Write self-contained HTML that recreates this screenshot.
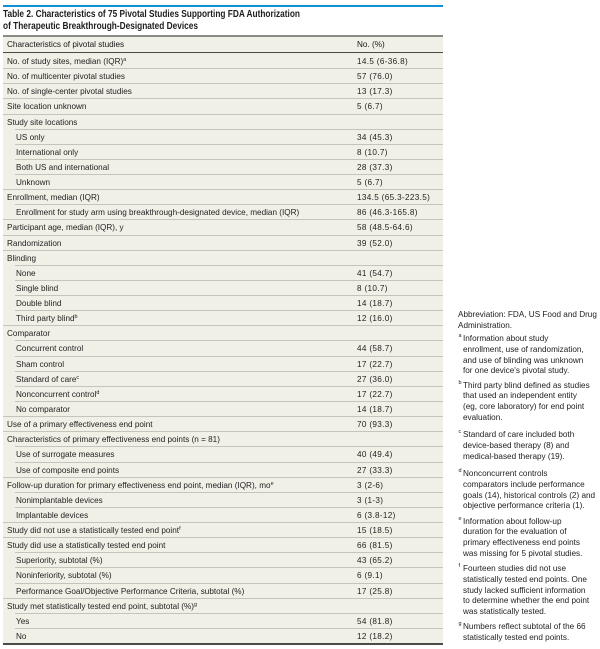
<!DOCTYPE html>
<html>
<head>
<meta charset="utf-8">
<style>
html,body{margin:0;padding:0;background:#fff;}
body{width:600px;height:649px;position:relative;overflow:hidden;font-family:"Liberation Sans",Arial,sans-serif;color:#222;}
.blue{position:absolute;left:3px;top:5px;width:440px;height:2px;background:#1290d2;}
.title{position:absolute;left:3px;top:9px;font-size:9.9px;line-height:12px;font-weight:bold;color:#1e1e1e;white-space:nowrap;transform:scaleX(.84);transform-origin:0 0;}
.bg{position:absolute;left:3px;top:35px;width:440px;height:610px;background:#f1f0e7;}
.htop{position:absolute;left:3px;top:35px;width:440px;height:2px;background:#8a8a86;}
.hbot{position:absolute;left:3px;top:52px;width:440px;height:1px;background:#4a4a48;}
.hdr{position:absolute;top:37px;height:15px;line-height:15px;font-size:8.7px;color:#151515;white-space:nowrap;transform:scaleX(.94);transform-origin:0 0;}
.r{position:absolute;left:3px;width:440px;height:15px;}
.r::before{content:"";position:absolute;left:0;right:0;top:0;height:1px;background:#c4c4bc;}
.r.s::before{left:12px;}
.r.n::before{display:none;}
.r .l{position:absolute;left:4px;top:1px;line-height:14px;font-size:8.7px;white-space:nowrap;transform:scaleX(.94);transform-origin:0 0;}
.r.s .l{left:13px;}
.r .v{position:absolute;left:354px;top:1px;line-height:14px;font-size:8.7px;letter-spacing:.35px;white-space:nowrap;transform:scaleX(.94);transform-origin:0 0;}
sup{font-size:5.8px;vertical-align:3px;line-height:0;}
.bot{position:absolute;left:3px;top:643px;width:440px;height:2px;background:#4a4a48;}
.fn{position:absolute;left:463px;font-size:8.7px;line-height:10.8px;white-space:nowrap;color:#222;transform:scaleX(.94);transform-origin:0 0;}
.fn .m{position:absolute;left:-4.8px;top:-2px;font-size:5.8px;}
</style>
</head>
<body>
<div class="blue"></div>
<div class="title">Table 2. Characteristics of 75 Pivotal Studies Supporting FDA Authorization<br>of Therapeutic Breakthrough-Designated Devices</div>

<div class="bg"></div>
<div class="htop"></div>
<div class="hdr" style="left:7px;">Characteristics of pivotal studies</div>
<div class="hdr" style="left:357px;">No. (%)</div>
<div class="hbot"></div>

<div class="r n" style="top:53.0px"><span class="l">No. of study sites, median (IQR)<sup>a</sup></span><span class="v">14.5 (6-36.8)</span></div>
<div class="r" style="top:68.1px"><span class="l">No. of multicenter pivotal studies</span><span class="v">57 (76.0)</span></div>
<div class="r" style="top:83.3px"><span class="l">No. of single-center pivotal studies</span><span class="v">13 (17.3)</span></div>
<div class="r" style="top:98.4px"><span class="l">Site location unknown</span><span class="v">5 (6.7)</span></div>
<div class="r" style="top:113.5px"><span class="l">Study site locations</span></div>
<div class="r s" style="top:128.6px"><span class="l">US only</span><span class="v">34 (45.3)</span></div>
<div class="r s" style="top:143.8px"><span class="l">International only</span><span class="v">8 (10.7)</span></div>
<div class="r s" style="top:158.9px"><span class="l">Both US and international</span><span class="v">28 (37.3)</span></div>
<div class="r s" style="top:174.0px"><span class="l">Unknown</span><span class="v">5 (6.7)</span></div>
<div class="r" style="top:189.2px"><span class="l">Enrollment, median (IQR)</span><span class="v">134.5 (65.3-223.5)</span></div>
<div class="r s" style="top:204.3px"><span class="l">Enrollment for study arm using breakthrough-designated device, median (IQR)</span><span class="v">86 (46.3-165.8)</span></div>
<div class="r" style="top:219.4px"><span class="l">Participant age, median (IQR), y</span><span class="v">58 (48.5-64.6)</span></div>
<div class="r" style="top:234.5px"><span class="l">Randomization</span><span class="v">39 (52.0)</span></div>
<div class="r" style="top:249.7px"><span class="l">Blinding</span></div>
<div class="r s" style="top:264.8px"><span class="l">None</span><span class="v">41 (54.7)</span></div>
<div class="r s" style="top:279.9px"><span class="l">Single blind</span><span class="v">8 (10.7)</span></div>
<div class="r s" style="top:295.0px"><span class="l">Double blind</span><span class="v">14 (18.7)</span></div>
<div class="r s" style="top:310.2px"><span class="l">Third party blind<sup>b</sup></span><span class="v">12 (16.0)</span></div>
<div class="r" style="top:325.3px"><span class="l">Comparator</span></div>
<div class="r s" style="top:340.4px"><span class="l">Concurrent control</span><span class="v">44 (58.7)</span></div>
<div class="r s" style="top:355.6px"><span class="l">Sham control</span><span class="v">17 (22.7)</span></div>
<div class="r s" style="top:370.7px"><span class="l">Standard of care<sup>c</sup></span><span class="v">27 (36.0)</span></div>
<div class="r s" style="top:385.8px"><span class="l">Nonconcurrent control<sup>d</sup></span><span class="v">17 (22.7)</span></div>
<div class="r s" style="top:400.9px"><span class="l">No comparator</span><span class="v">14 (18.7)</span></div>
<div class="r" style="top:416.1px"><span class="l">Use of a primary effectiveness end point</span><span class="v">70 (93.3)</span></div>
<div class="r" style="top:431.2px"><span class="l">Characteristics of primary effectiveness end points (n = 81)</span></div>
<div class="r s" style="top:446.3px"><span class="l">Use of surrogate measures</span><span class="v">40 (49.4)</span></div>
<div class="r s" style="top:461.5px"><span class="l">Use of composite end points</span><span class="v">27 (33.3)</span></div>
<div class="r" style="top:476.6px"><span class="l">Follow-up duration for primary effectiveness end point, median (IQR), mo<sup>e</sup></span><span class="v">3 (2-6)</span></div>
<div class="r s" style="top:491.7px"><span class="l">Nonimplantable devices</span><span class="v">3 (1-3)</span></div>
<div class="r s" style="top:506.8px"><span class="l">Implantable devices</span><span class="v">6 (3.8-12)</span></div>
<div class="r" style="top:522.0px"><span class="l">Study did not use a statistically tested end point<sup>f</sup></span><span class="v">15 (18.5)</span></div>
<div class="r" style="top:537.1px"><span class="l">Study did use a statistically tested end point</span><span class="v">66 (81.5)</span></div>
<div class="r s" style="top:552.2px"><span class="l">Superiority, subtotal (%)</span><span class="v">43 (65.2)</span></div>
<div class="r s" style="top:567.4px"><span class="l">Noninferiority, subtotal (%)</span><span class="v">6 (9.1)</span></div>
<div class="r s" style="top:582.5px"><span class="l">Performance Goal/Objective Performance Criteria, subtotal (%)</span><span class="v">17 (25.8)</span></div>
<div class="r" style="top:597.6px"><span class="l">Study met statistically tested end point, subtotal (%)<sup>g</sup></span></div>
<div class="r s" style="top:612.7px"><span class="l">Yes</span><span class="v">54 (81.8)</span></div>
<div class="r s" style="top:627.9px"><span class="l">No</span><span class="v">12 (18.2)</span></div>
<div class="bot"></div>

<div class="fn" style="left:458px;top:309px;">Abbreviation: FDA, US Food and Drug<br>Administration.</div>
<div class="fn" style="top:333px;"><span class="m">a</span>Information about study<br>enrollment, use of randomization,<br>and use of blinding was unknown<br>for one device's pivotal study.</div>
<div class="fn" style="top:379.6px;"><span class="m">b</span>Third party blind defined as studies<br>that used an independent entity<br>(eg, core laboratory) for end point<br>evaluation.</div>
<div class="fn" style="top:429px;"><span class="m">c</span>Standard of care included both<br>device-based therapy (8) and<br>medical-based therapy (19).</div>
<div class="fn" style="top:468px;"><span class="m">d</span>Nonconcurrent controls<br>comparators include performance<br>goals (14), historical controls (2) and<br>objective performance criteria (1).</div>
<div class="fn" style="top:515.6px;"><span class="m">e</span>Information about follow-up<br>duration for the evaluation of<br>primary effectiveness end points<br>was missing for 5 pivotal studies.</div>
<div class="fn" style="top:563px;"><span class="m">f</span>Fourteen studies did not use<br>statistically tested end points. One<br>study lacked sufficient information<br>to determine whether the end point<br>was statistically tested.</div>
<div class="fn" style="top:621.3px;"><span class="m">g</span>Numbers reflect subtotal of the 66<br>statistically tested end points.</div>
</body>
</html>
